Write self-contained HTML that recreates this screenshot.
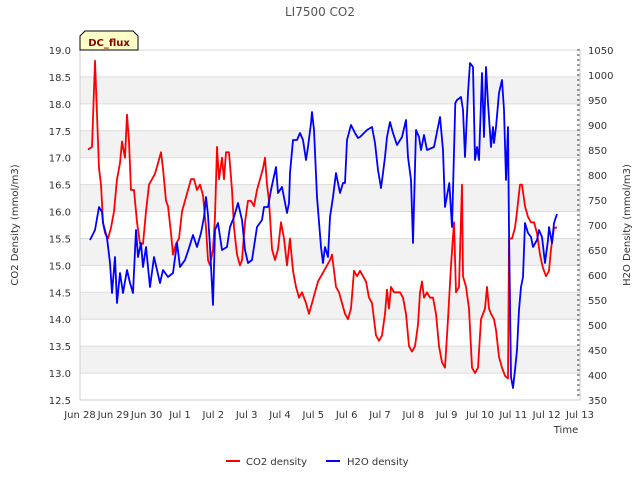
<!DOCTYPE html>
<html><head><meta charset="utf-8"><style>
body{margin:0;background:#fff;}
svg{display:block;font-family:"DejaVu Sans","Liberation Sans",sans-serif;}
</style></head><body>
<svg id="c" width="640" height="480">
<text x="320" y="16" text-anchor="middle" font-size="12" fill="#555">LI7500 CO2</text>
<g id="grid"></g><g id="axes"></g><g id="series"></g>
<text x="18" y="225" transform="rotate(-90 18 225)" text-anchor="middle" font-size="10" fill="#333">CO2 Density (mmol/m3)</text>
<text x="630" y="225" transform="rotate(-90 630 225)" text-anchor="middle" font-size="10" fill="#333">H2O Density (mmol/m3)</text>
<text x="566" y="433" text-anchor="middle" font-size="10" fill="#333">Time</text>
<g>
<g><line x1="226" y1="461" x2="240" y2="461" stroke="#f00" stroke-width="2"/><text x="246" y="465" font-size="10" fill="#333">CO2 density</text></g>
<g><line x1="326" y1="461" x2="340" y2="461" stroke="#00f" stroke-width="2"/><text x="347" y="465" font-size="10" fill="#333">H2O density</text></g>
</g>
<g><path d="M80,50 L80,36 L85,31 L133,31 L138,36 L138,50 Z" fill="#ffffc8" stroke="#000" stroke-width="1"/><text x="109" y="46" text-anchor="middle" font-size="10" font-weight="bold" fill="#8b0000">DC_flux</text></g>
</svg>
<script>
const xTickLabels=["Jun 28","Jun 29","Jun 30","Jul 1","Jul 2","Jul 3","Jul 4","Jul 5","Jul 6","Jul 7","Jul 8","Jul 9","Jul 10","Jul 11","Jul 12","Jul 13"];
const leftTicks=[12.5,13.0,13.5,14.0,14.5,15.0,15.5,16.0,16.5,17.0,17.5,18.0,18.5,19.0];
const rightTicks=[350,400,450,500,550,600,650,700,750,800,850,900,950,1000,1050];
const co2Days=[.24,.36,.45,.51,.57,.63,.69,.75,.84,.93,1.02,1.11,1.20,1.26,1.35,1.41,1.47,1.53,1.62,1.71,1.80,1.89,1.98,2.07,2.16,2.25,2.34,2.43,2.49,2.58,2.64,2.73,2.79,2.88,2.97,3.06,3.15,3.24,3.33,3.42,3.51,3.60,3.69,3.78,3.84,3.90,3.99,4.05,4.11,4.17,4.26,4.32,4.38,4.47,4.56,4.62,4.71,4.80,4.86,4.95,5.04,5.13,5.22,5.31,5.40,5.49,5.55,5.61,5.67,5.76,5.85,5.94,6.03,6.12,6.21,6.30,6.39,6.48,6.57,6.66,6.78,6.87,6.96,7.05,7.14,7.23,7.32,7.41,7.50,7.56,7.62,7.68,7.77,7.86,7.95,8.04,8.13,8.22,8.31,8.40,8.49,8.58,8.67,8.76,8.82,8.88,8.97,9.06,9.15,9.21,9.27,9.33,9.42,9.51,9.60,9.69,9.78,9.87,9.96,10.05,10.14,10.20,10.26,10.32,10.41,10.50,10.59,10.68,10.77,10.86,10.95,11.04,11.13,11.22,11.28,11.37,11.46,11.49,11.58,11.67,11.76,11.85,11.94,12.03,12.09,12.15,12.21,12.27,12.33,12.42,12.48,12.57,12.66,12.75,12.84,12.87,12.96,13.05,13.11,13.20,13.26,13.35,13.44,13.53,13.62,13.71,13.80,13.89,13.98,14.07,14.13,14.22,14.31];
const co2Values=[17.15,17.2,18.8,17.8,16.8,16.5,15.8,15.6,15.5,15.7,16.0,16.6,16.9,17.3,17.0,17.8,17.3,16.4,16.4,15.8,15.4,15.4,16.0,16.5,16.6,16.7,16.9,17.1,16.8,16.2,16.1,15.6,15.2,15.4,15.5,16.0,16.2,16.4,16.6,16.6,16.4,16.5,16.3,15.7,15.1,15.0,15.3,15.9,17.2,16.6,17.0,16.6,17.1,17.1,16.4,15.7,15.2,15.0,15.1,15.8,16.2,16.2,16.1,16.4,16.6,16.8,17.0,16.5,16.2,15.3,15.1,15.3,15.8,15.5,15.0,15.5,14.9,14.6,14.4,14.5,14.3,14.1,14.3,14.5,14.7,14.8,14.9,15.0,15.1,15.2,14.9,14.6,14.5,14.3,14.1,14.0,14.2,14.9,14.8,14.9,14.8,14.7,14.4,14.3,14.0,13.7,13.6,13.7,14.1,14.55,14.2,14.6,14.5,14.5,14.5,14.4,14.1,13.5,13.4,13.5,13.9,14.5,14.7,14.4,14.5,14.4,14.4,14.1,13.5,13.2,13.1,14.0,15.0,15.8,14.5,14.6,16.5,14.8,14.6,14.2,13.1,13.0,13.1,14.0,14.1,14.2,14.6,14.2,14.1,14.0,13.8,13.3,13.1,12.95,12.9,15.5,15.5,15.7,16.0,16.5,16.5,16.1,15.9,15.8,15.8,15.6,15.2,14.95,14.8,14.9,15.3,15.7,15.7];
const h2oDays=[.30,.45,.57,.66,.69,.81,.90,.96,1.05,1.11,1.20,1.29,1.41,1.50,1.59,1.68,1.74,1.83,1.89,1.98,2.10,2.22,2.31,2.40,2.49,2.64,2.79,2.91,3.00,3.15,3.27,3.39,3.51,3.63,3.72,3.78,3.84,3.90,3.99,4.05,4.14,4.26,4.41,4.50,4.62,4.74,4.86,4.95,5.04,5.16,5.31,5.46,5.52,5.64,5.73,5.88,5.94,6.06,6.21,6.27,6.30,6.39,6.51,6.60,6.69,6.78,6.84,6.93,6.96,7.02,7.11,7.23,7.29,7.35,7.44,7.50,7.59,7.68,7.80,7.89,7.95,8.01,8.13,8.25,8.34,8.40,8.61,8.76,8.85,8.94,9.03,9.09,9.15,9.21,9.30,9.39,9.51,9.66,9.78,9.84,9.93,9.99,10.08,10.17,10.23,10.32,10.41,10.62,10.74,10.80,10.89,10.95,11.08,11.16,11.26,11.31,11.43,11.49,11.55,11.64,11.70,11.79,11.85,11.91,11.97,12.06,12.12,12.18,12.24,12.33,12.39,12.42,12.48,12.57,12.66,12.72,12.78,12.84,12.87,12.93,12.99,13.05,13.11,13.17,13.23,13.29,13.35,13.44,13.53,13.59,13.71,13.77,13.86,13.95,14.04,14.07,14.16,14.22,14.31];
const h2oValues=[670,690,736,726,704,674,624,564,636,544,604,564,610,584,564,690,636,664,616,656,576,636,610,584,610,596,604,664,616,630,654,680,656,684,716,756,720,656,540,690,704,650,656,696,716,744,710,650,624,630,696,710,736,736,770,816,764,776,724,744,804,870,870,884,870,830,856,904,926,890,756,656,624,656,636,716,756,804,764,784,784,870,900,884,874,876,890,896,864,810,774,804,836,876,906,884,860,876,910,836,790,664,890,876,850,880,850,856,896,916,850,736,784,696,944,950,956,930,836,964,1024,1016,830,856,830,1004,876,1016,944,856,896,864,896,964,990,930,790,896,690,396,374,410,450,530,576,596,704,684,676,656,670,690,676,624,670,696,664,704,722,710];

const L=80,R=580,T=50,B=400,NS="http://www.w3.org/2000/svg";
const xS=d=>L+(R-L)*d/15;
const yL=v=>B-(B-T)*(v-12.5)/6.5;
const yR=v=>B-(B-T)*(v-350)/700;
function mk(tag,attrs,parent){const e=document.createElementNS(NS,tag);for(const k in attrs)e.setAttribute(k,attrs[k]);parent.appendChild(e);return e;}
const grid=document.getElementById('grid'),axes=document.getElementById('axes'),ser=document.getElementById('series');
for(let i=0;i<leftTicks.length-1;i++){
  if(i%2===1){const r=mk('rect',{x:L,y:yL(leftTicks[i+1]),width:R-L,height:yL(leftTicks[i])-yL(leftTicks[i+1]),fill:'#f2f2f2'},grid);
  
  }
}
leftTicks.forEach(v=>{
  const l=mk('line',{x1:L,x2:R,y1:yL(v),y2:yL(v),stroke:'#dcdcdc','stroke-width':1},grid);
  
  
  const t=mk('text',{x:L-9,y:yL(v)+4,'text-anchor':'end','font-size':10,fill:'#333'},axes);
  t.textContent=v.toFixed(1);
  
  
});
rightTicks.forEach(v=>{
  const t=mk('text',{x:R+8,y:yR(v)+4,'font-size':10,fill:'#333'},axes);
  t.textContent=v;
  
  
});
for(let v=350;v<=1050;v+=10){mk('line',{x1:R-3,x2:R,y1:yR(v),y2:yR(v),stroke:'#333','stroke-width':1},axes);}
xTickLabels.forEach((s,i)=>{
  const t=mk('text',{x:xS(i),y:418,'text-anchor':'middle','font-size':10,fill:'#333'},axes);
  t.textContent=s;
  
  
});
mk('path',{d:`M${L},${T}V${B}H${R}V${T}`,fill:'none',stroke:'#ccc'},axes);
function line(days,vals,ys,color,name){
  const d=days.map((t,i)=>(i?'L':'M')+xS(t).toFixed(1)+','+ys(vals[i]).toFixed(1)).join('');
  const p=mk('path',{d:d,fill:'none',stroke:color,'stroke-width':1.8,'stroke-linejoin':'round'},ser);
  
  
}
line(co2Days,co2Values,yL,'#f00','co2-line');
line(h2oDays,h2oValues,yR,'#00f','h2o-line');
</script>
</body></html>
